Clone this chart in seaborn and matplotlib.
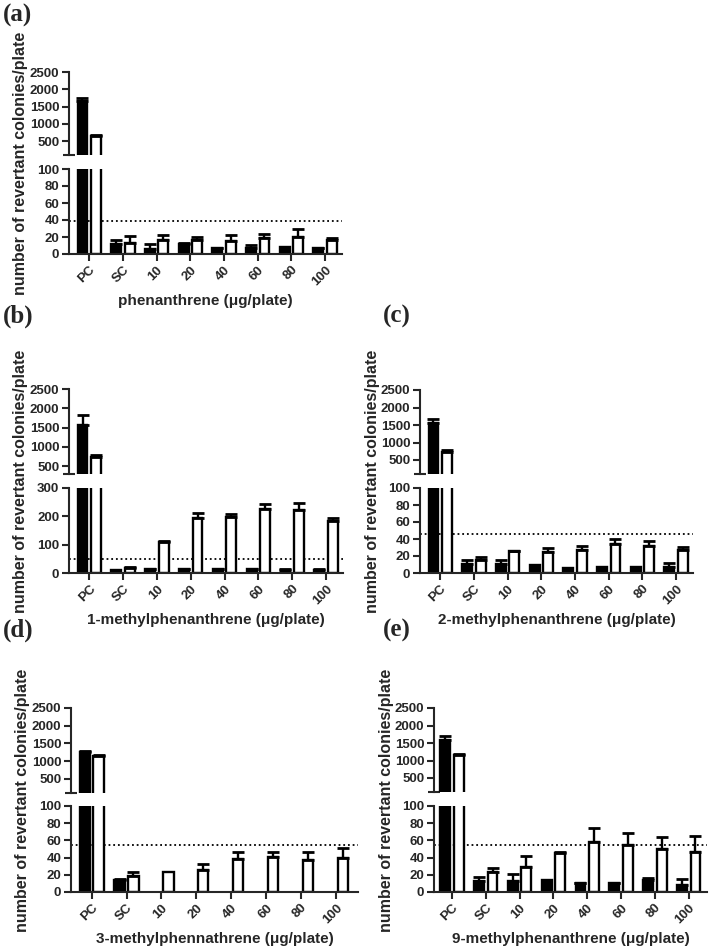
import numpy as np
import pandas as pd
import matplotlib
matplotlib.use("Agg")
import matplotlib.pyplot as plt
import seaborn as sns

doses = ['PC', 'SC', '10', '20', '40', '60', '80', '100']
nan = np.nan

# (a) phenanthrene
a_black = [1660, 12, 6, 12, 7, 6.5, 8, 7]
a_black_err = [80, 5, 6, 1, 0.5, 4, 0, 0.5]
a_white = [650, 13.5, 17, 16, 15.5, 19, 20, 16.5]
a_white_err = [25, 7.5, 5, 4, 7, 4, 9.5, 2.5]
a_line = 38.5

# (b) 1-methylphenanthrene
b_black = [1560, 11, 14, 14, 14, 14, 12, 12]
b_black_err = [260, 0, 1, 1, 1, 1, 1, 1]
b_white = [740, 19, 108, 193, 196, 226, 223, 183]
b_white_err = [45, 3, 5, 20, 12, 17, 24, 12]
b_line = 50

# (c) 2-methylphenanthrene
c_black = [1570, 10.5, 10.5, 10, 5.5, 7, 6.5, 6.5]
c_black_err = [90, 4.5, 5, 0, 0, 0, 0, 5.5]
c_white = [730, 15, 25.5, 25, 27, 34, 32, 27.5]
c_white_err = [50, 4, 0.5, 5, 4.5, 6, 5.5, 3.5]
c_line = 45.5

# (d) 3-methylphenanthrene
d_black = [1270, 14.5, nan, nan, nan, nan, nan, nan]
d_black_err = [15, 1, 0, 0, 0, 0, 0, 0]
d_white = [1150, 18.5, 23, 26, 38.5, 40.5, 37.5, 39.5]
d_white_err = [15, 4.5, 0, 6, 8, 5.5, 9.5, 12]
d_line = 54.5

# (e) 9-methylphenanthrene
e_black = [1590, 12.7, 12.3, 14.5, 10, 10, 14.5, 8.5]
e_black_err = [110, 4.5, 8.5, 0, 0.5, 0.5, 2, 7]
e_white = [1170, 23.5, 29.5, 45, 58, 55, 49.5, 46]
e_white_err = [30, 4.5, 12, 2, 17, 14, 15, 19]
e_line = 54.5

sns.set_style("ticks")
plt.rcParams['font.family'] = ['Liberation Sans', 'DejaVu Sans']
plt.rcParams['font.weight'] = 'bold'
plt.rcParams['axes.linewidth'] = 1.5

W, H = 709, 948
fig = plt.figure(figsize=(W / 100, H / 100), dpi=100)


def px_axes(x0, x1, y0, y1):
    return fig.add_axes([x0 / W, 1 - y1 / H, (x1 - x0) / W, (y1 - y0) / H])


def draw_panel(tag, tag_xy, xlabel, black, black_err, white, white_err, line, bmax, xlim, box):
    x0, x1, t0, t1, b0, b1 = box
    df = pd.DataFrame({'dose': doses * 2,
                       'group': ['black'] * 8 + ['white'] * 8,
                       'value': black + white})
    ax_top = px_axes(x0, x1, t0, t1)
    ax_bot = px_axes(x0, x1, b0, b1)
    for ax in (ax_top, ax_bot):
        upper = ax is ax_top
        sns.barplot(data=df, x='dose', y='value', hue='group', order=doses,
                    hue_order=['black', 'white'],
                    palette={'black': 'black', 'white': 'white'},
                    edgecolor='black', linewidth=1.7, width=0.8, gap=0.27,
                    errorbar=None, legend=False, saturation=1, ax=ax)
        for p in list(ax.patches):
            h = p.get_height()
            if np.isnan(h):
                continue
            # small bars never reach the upper part: hide them there
            if upper and h < bmax:
                p.set_visible(False)
                continue
            cx = p.get_x() + p.get_width() / 2
            i = int(round(cx))
            err = black_err[i] if p.get_facecolor()[0] < 0.5 else white_err[i]
            if err <= 0 or (h >= bmax) != upper:
                continue
            ax.errorbar(cx, h, yerr=[[0], [err]], fmt='none', ecolor='black',
                        elinewidth=1.7, capsize=4, capthick=2, zorder=3)
        ax.set_xlim(*xlim)
        ax.set_xlabel('')
        ax.set_ylabel('')
        ax.spines['top'].set_visible(False)
        ax.spines['right'].set_visible(False)
        ax.tick_params(axis='both', labelsize=9.5, width=1.5, length=5, direction='out', pad=2)

    # upper part of the broken axis
    ax_top.set_ylim(bmax, 2500)
    ax_top.set_yticks([500, 1000, 1500, 2000, 2500])
    ax_top.set_yticks([bmax], minor=True)
    ax_top.tick_params(axis='y', which='minor', direction='inout', length=8, width=1.5)
    ax_top.spines['bottom'].set_visible(False)
    ax_top.tick_params(axis='x', bottom=False, labelbottom=False)

    # lower part
    ax_bot.set_ylim(0, bmax)
    step = 100 if bmax > 100 else 20
    ax_bot.set_yticks(np.arange(0, bmax + 1, step))
    ax_bot.axhline(line, color='black', lw=1.3, linestyle=(0, (1, 1.6)), zorder=0.5)
    for lab in ax_bot.get_xticklabels():
        lab.set_rotation(45)
        lab.set_ha('right')
        lab.set_rotation_mode('anchor')
    for ax in (ax_top, ax_bot):
        for lab in ax.get_yticklabels() + ax.get_xticklabels():
            lab.set_fontweight('bold')

    fig.text(tag_xy[0] / W, 1 - tag_xy[1] / H, tag, family='Liberation Serif',
             fontweight='bold', fontsize=18, ha='left', va='center')
    fig.text((x0 - 48) / W, 1 - ((t0 + b1) / 2) / H, 'number of revertant colonies/plate',
             rotation=90, ha='center', va='center', fontsize=11.5, fontweight='bold')
    fig.text(((x0 + x1) / 2) / W, 1 - (b1 + 47) / H, xlabel,
             ha='center', va='center', fontsize=11, fontweight='bold')


draw_panel('(a)', (3, 15), 'phenanthrene (\u03bcg/plate)',
           a_black, a_black_err, a_white, a_white_err, a_line, 100,
           (-0.6, 7.5), (69, 342, 72, 155, 169, 254))
draw_panel('(b)', (3, 316), '1-methylphenanthrene (\u03bcg/plate)',
           b_black, b_black_err, b_white, b_white_err, b_line, 300,
           (-0.6, 7.5), (69, 343, 389, 474, 488, 573))
draw_panel('(c)', (383, 316), '2-methylphenanthrene (\u03bcg/plate)',
           c_black, c_black_err, c_white, c_white_err, c_line, 100,
           (-0.6, 7.5), (420, 693, 390, 474, 488, 573))
draw_panel('(d)', (3, 630), '3-methylphennathrene (\u03bcg/plate)',
           d_black, d_black_err, d_white, d_white_err, d_line, 100,
           (-0.59, 7.63), (71, 358, 708, 793, 806, 892))
draw_panel('(e)', (383, 630), '9-methylphenanthrene (\u03bcg/plate)',
           e_black, e_black_err, e_white, e_white_err, e_line, 100,
           (-0.53, 7.54), (434, 707, 708, 792, 806, 892))

fig.savefig('out.png', dpi=100)
